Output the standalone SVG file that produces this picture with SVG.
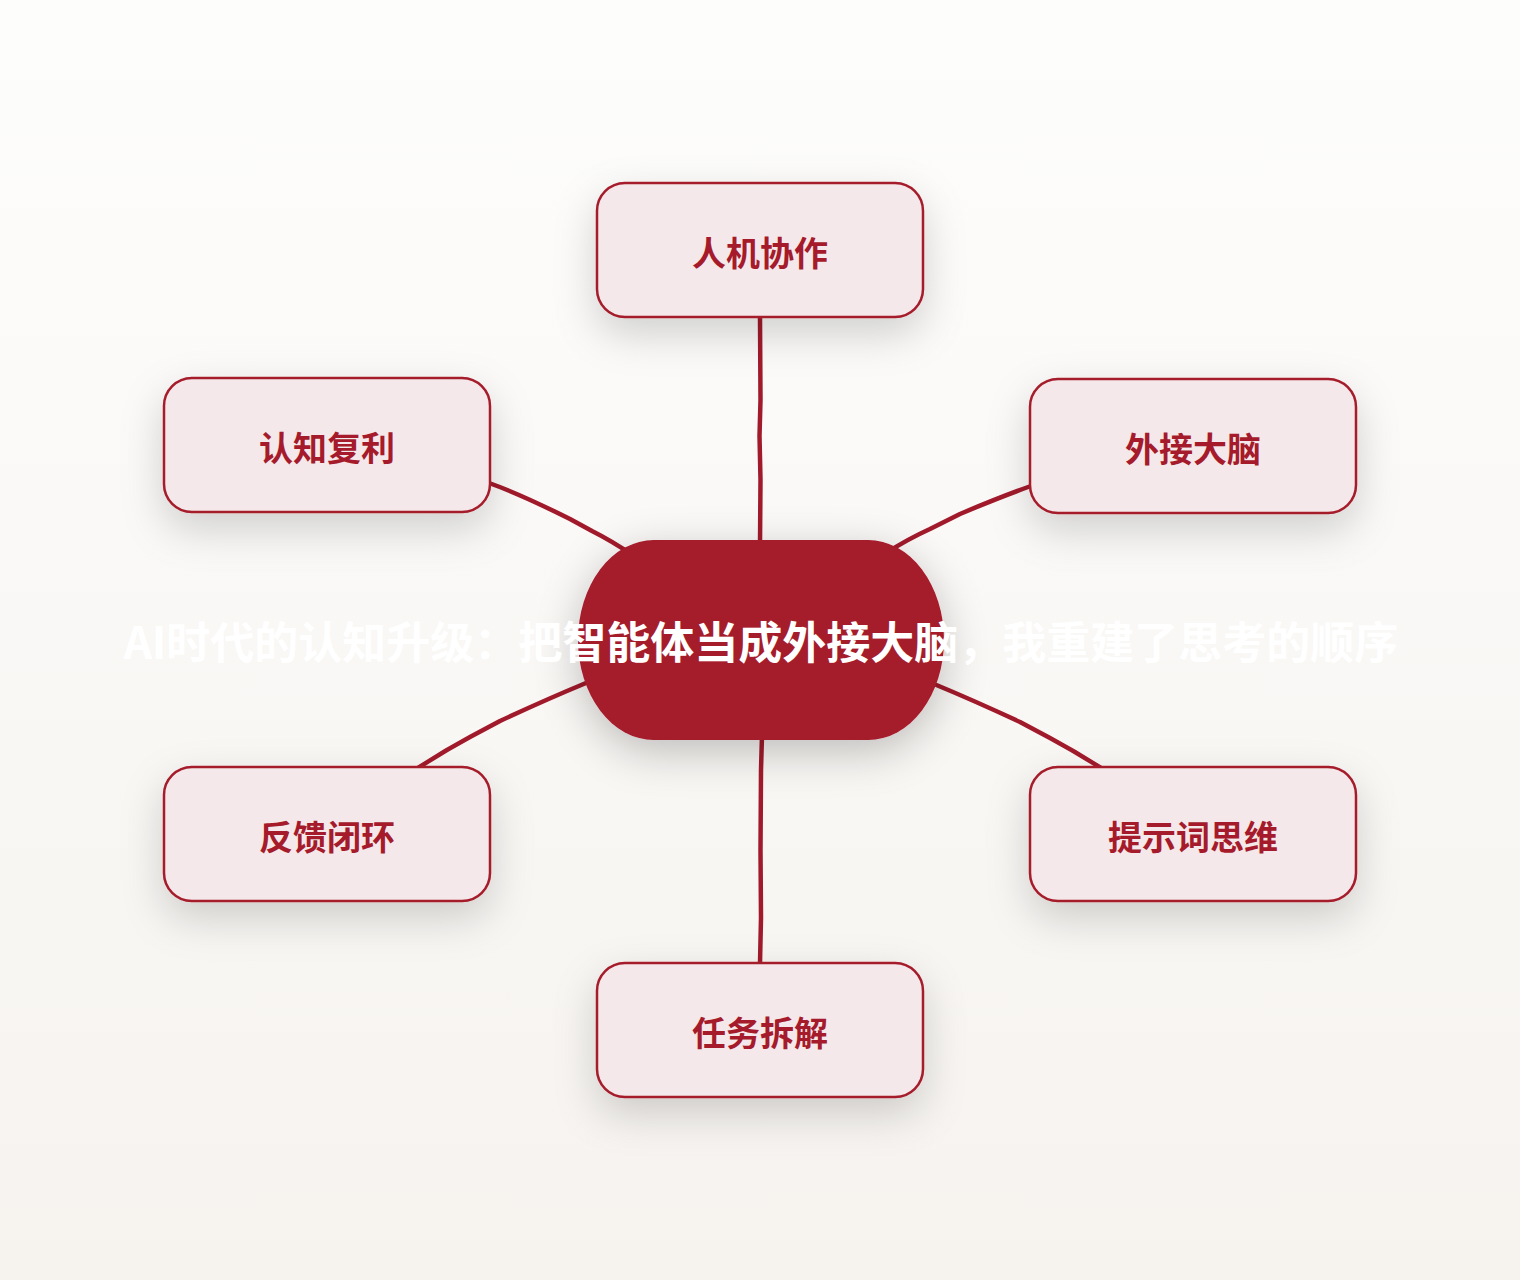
<svg xmlns="http://www.w3.org/2000/svg" width="1520" height="1280" viewBox="0 0 1520 1280">
  <defs>
    <linearGradient id="bg" x1="0" y1="0" x2="0" y2="1">
      <stop offset="0" stop-color="#fdfdfc"/>
      <stop offset="1" stop-color="#f6f3ef"/>
    </linearGradient>
    <filter id="shadow" x="-40%" y="-40%" width="180%" height="200%">
      <feDropShadow dx="0" dy="16" stdDeviation="20" flood-color="#000" flood-opacity="0.17"/>
    </filter>
    <filter id="shadowC" x="-40%" y="-50%" width="180%" height="210%">
      <feDropShadow dx="0" dy="12" stdDeviation="22" flood-color="#000" flood-opacity="0.24"/>
    </filter>
    <style>
      .conn { fill: none; stroke: #a11a2b; stroke-width: 4.5; stroke-linecap: round; stroke-linejoin: round; }
      .box { fill: #f5e8ea; stroke: #a51b2b; stroke-width: 2.5; filter: url(#shadow); }
      .lbl { font-family: "Noto Sans CJK SC", "Noto Sans", sans-serif; font-weight: 700; font-size: 34px; fill: #a51b2b; text-anchor: middle; }
      .center { fill: #a51a2a; filter: url(#shadowC); }
      .title { font-family: "Noto Sans CJK SC", "Noto Sans", sans-serif; font-weight: 700; font-size: 44px; fill: #ffffff; text-anchor: middle; }
    </style>
  </defs>
  <rect x="0" y="0" width="1520" height="1280" fill="url(#bg)"/>

  <g id="connectors">
    <path class="conn" d="M760,318 L760.5,400 L759.5,436 L760.5,480 L760,545"/>
    <path class="conn" d="M489,483 Q520,494 570,519 L592,531 Q612,541 634,556"/>
    <path class="conn" d="M1031,486 Q1000,497 960,514 L930,529 Q908,539 886,553"/>
    <path class="conn" d="M586,683 Q545,700 500,721 L470,737 Q444,751 418,768"/>
    <path class="conn" d="M934,684 Q975,701 1020,722 L1050,738 Q1076,752 1101,768"/>
    <path class="conn" d="M762,735 L761,770 L760.5,850 L761,918 L760,963"/>
  </g>

  <g id="node-center">
    <rect class="center" x="578" y="540" width="366" height="200" rx="76" ry="100"/>
    <text class="title" x="761" y="659">AI时代的认知升级：把智能体当成外接大脑，我重建了思考的顺序</text>
  </g>

  <g id="node-renji">
    <rect class="box" x="597" y="183" width="326" height="134" rx="28"/>
    <text class="lbl" x="760" y="266">人机协作</text>
  </g>
  <g id="node-renzhi">
    <rect class="box" x="164" y="378" width="326" height="134" rx="28"/>
    <text class="lbl" x="327" y="461">认知复利</text>
  </g>
  <g id="node-waijie">
    <rect class="box" x="1030" y="379" width="326" height="134" rx="28"/>
    <text class="lbl" x="1193" y="462">外接大脑</text>
  </g>
  <g id="node-fankui">
    <rect class="box" x="164" y="767" width="326" height="134" rx="28"/>
    <text class="lbl" x="327" y="850">反馈闭环</text>
  </g>
  <g id="node-tishi">
    <rect class="box" x="1030" y="767" width="326" height="134" rx="28"/>
    <text class="lbl" x="1193" y="850">提示词思维</text>
  </g>
  <g id="node-renwu">
    <rect class="box" x="597" y="963" width="326" height="134" rx="28"/>
    <text class="lbl" x="760" y="1046">任务拆解</text>
  </g>
</svg>
